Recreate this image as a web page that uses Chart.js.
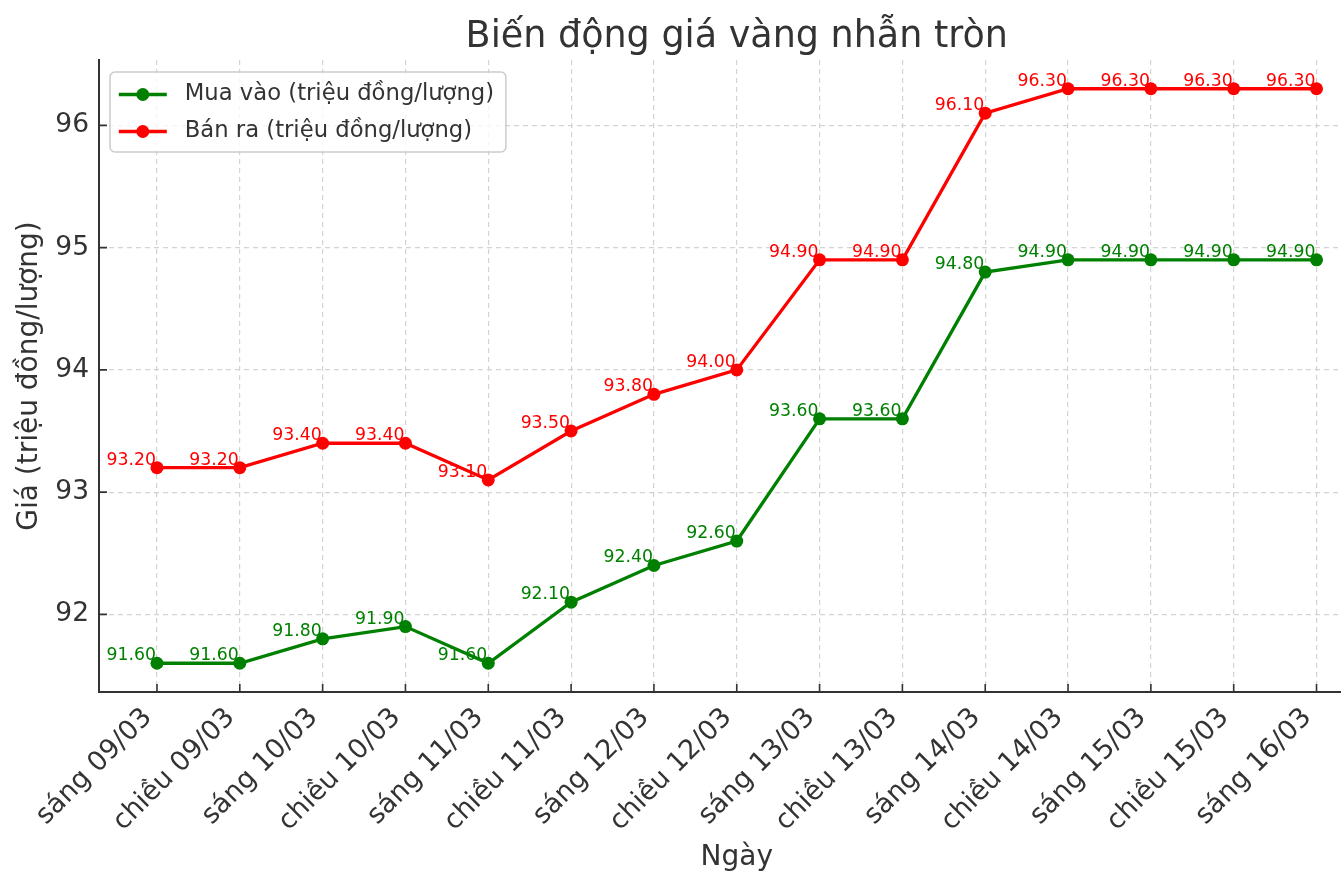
<!DOCTYPE html>
<html>
<head>
<meta charset="utf-8">
<script src="https://cdn.jsdelivr.net/npm/chart.js@4.4.1/dist/chart.umd.min.js"></script>
<style>
  html, body { margin: 0; padding: 0; background: #fff; overflow: hidden; }
  canvas { display: block; }
</style>
</head>
<body>
<canvas id="chartGia" width="1381" height="875"></canvas>
<script>
const ngay = ['sáng 09/03', 'chiều 09/03', 'sáng 10/03', 'chiều 10/03', 'sáng 11/03', 'chiều 11/03',
  'sáng 12/03', 'chiều 12/03', 'sáng 13/03', 'chiều 13/03', 'sáng 14/03', 'chiều 14/03',
  'sáng 15/03', 'chiều 15/03', 'sáng 16/03'];
const muaVao = [91.6, 91.6, 91.8, 91.9, 91.6, 92.1, 92.4, 92.6, 93.6, 93.6, 94.8, 94.9, 94.9, 94.9, 94.9];
const banRa = [93.2, 93.2, 93.4, 93.4, 93.1, 93.5, 93.8, 94.0, 94.9, 94.9, 96.1, 96.3, 96.3, 96.3, 96.3];
const yTicks = [92, 93, 94, 95, 96];

const FONT = '"DejaVu Sans", sans-serif';
const TEXT = '#333333';

// nhãn giá trị trên mỗi điểm
const nhanGiaTri = {
  id: 'nhanGiaTri',
  afterDatasetsDraw(chart) {
    const ctx = chart.ctx;
    ctx.save();
    ctx.font = '17.3px ' + FONT;
    ctx.textAlign = 'right';
    ctx.textBaseline = 'alphabetic';
    chart.data.datasets.forEach((ds, i) => {
      ctx.fillStyle = ds.borderColor;
      chart.getDatasetMeta(i).data.forEach((pt, j) => {
        ctx.fillText(ds.data[j].y.toFixed(2), pt.x - 1, pt.y - 3);
      });
    });
    ctx.restore();
  }
};

// vạch chia hướng vào trong + chú thích
const trucVaChuThich = {
  id: 'trucVaChuThich',
  afterDraw(chart) {
    const ctx = chart.ctx;
    const a = chart.chartArea;
    const sx = chart.scales.x, sy = chart.scales.y;
    ctx.save();
    ctx.strokeStyle = '#333333';
    ctx.lineWidth = 1.6;
    ctx.beginPath();
    sx.ticks.forEach(t => { const px = sx.getPixelForValue(t.value); ctx.moveTo(px, a.bottom); ctx.lineTo(px, a.bottom - 8); });
    sy.ticks.forEach(t => { const py = sy.getPixelForValue(t.value); ctx.moveTo(a.left, py); ctx.lineTo(a.left + 8, py); });
    ctx.stroke();

    // chú thích
    const fs = 22.7;
    ctx.font = fs + 'px ' + FONT;
    const items = chart.data.datasets.map(ds => ({ text: ds.label, color: ds.borderColor }));
    const textW = Math.max(...items.map(it => ctx.measureText(it.text).width));
    const bx = a.left + 11, by = a.top + 12;
    const pad = 8.8, handle = 48, gap = 18, row = 37;
    const bw = pad + handle + gap + textW + pad + 3;
    const bh = 80;
    ctx.beginPath();
    ctx.roundRect(bx, by, bw, bh, 5);
    ctx.fillStyle = 'rgba(255,255,255,0.8)';
    ctx.fill();
    ctx.strokeStyle = '#cccccc';
    ctx.lineWidth = 1.5;
    ctx.stroke();
    items.forEach((it, i) => {
      const cy = by + 22.5 + i * row;
      const hx = bx + pad;
      ctx.strokeStyle = it.color;
      ctx.lineWidth = 3.3;
      ctx.beginPath();
      ctx.moveTo(hx, cy); ctx.lineTo(hx + handle, cy);
      ctx.stroke();
      ctx.fillStyle = it.color;
      ctx.beginPath();
      ctx.arc(hx + handle / 2, cy, 6.5, 0, Math.PI * 2);
      ctx.fill();
      ctx.fillStyle = TEXT;
      ctx.textAlign = 'left';
      ctx.textBaseline = 'middle';
      ctx.fillText(it.text, hx + handle + gap, cy);
    });
    ctx.restore();
  }
};

const toPoints = arr => arr.map((v, i) => ({ x: i, y: v }));

new Chart(document.getElementById('chartGia').getContext('2d'), {
  type: 'line',
  data: {
    datasets: [
      { label: 'Mua vào (triệu đồng/lượng)', data: toPoints(muaVao), borderColor: '#008000', backgroundColor: '#008000',
        borderWidth: 3.3, pointRadius: 6.5, pointHoverRadius: 6.5, pointBorderWidth: 0, tension: 0 },
      { label: 'Bán ra (triệu đồng/lượng)', data: toPoints(banRa), borderColor: '#ff0000', backgroundColor: '#ff0000',
        borderWidth: 3.3, pointRadius: 6.5, pointHoverRadius: 6.5, pointBorderWidth: 0, tension: 0 }
    ]
  },
  options: {
    responsive: false,
    animation: false,
    devicePixelRatio: 1,
    layout: { padding: 0 },
    plugins: {
      legend: { display: false },
      tooltip: { enabled: false },
      title: {
        display: true, fullSize: false,
        text: 'Biến động giá vàng nhẫn tròn',
        color: TEXT,
        font: { family: FONT, size: 36.5, weight: 'normal' },
        padding: { top: 16, bottom: 0.2 }
      }
    },
    scales: {
      x: {
        type: 'linear', min: -0.7, max: 14.7,
        afterBuildTicks: s => { s.ticks = ngay.map((_, i) => ({ value: i })); },
        afterFit: s => { s.height = 183; s.paddingLeft = 0; s.paddingRight = 0; },
        ticks: {
          callback: v => ngay[v],
          autoSkip: false, minRotation: 45, maxRotation: 45,
          color: TEXT, font: { family: FONT, size: 27 }, padding: 10, labelOffset: -9
        },
        grid: { color: '#d3d3d3', lineWidth: 1.2, drawTicks: false },
        border: { display: true, color: '#333333', width: 2, dash: [5, 4] },
        title: { display: true, text: 'Ngày', color: TEXT, font: { family: FONT, size: 28 }, padding: { top: 0, bottom: 0 } }
      },
      y: {
        min: 91.365, max: 96.535,
        afterBuildTicks: s => { s.ticks = yTicks.map(v => ({ value: v })); },
        afterFit: s => { s.width = 99; s.paddingTop = 0; s.paddingBottom = 0; },
        ticks: { callback: v => String(v), color: TEXT, font: { family: FONT, size: 26.5 }, padding: 10 },
        grid: { color: '#d3d3d3', lineWidth: 1.2, drawTicks: false },
        border: { display: true, color: '#333333', width: 2, dash: [5, 4] },
        title: { display: true, text: 'Giá (triệu đồng/lượng)', color: TEXT, font: { family: FONT, size: 28 }, padding: { top: 13, bottom: 0 } }
      }
    }
  },
  plugins: [nhanGiaTri, trucVaChuThich]
});
</script>
</body>
</html>
